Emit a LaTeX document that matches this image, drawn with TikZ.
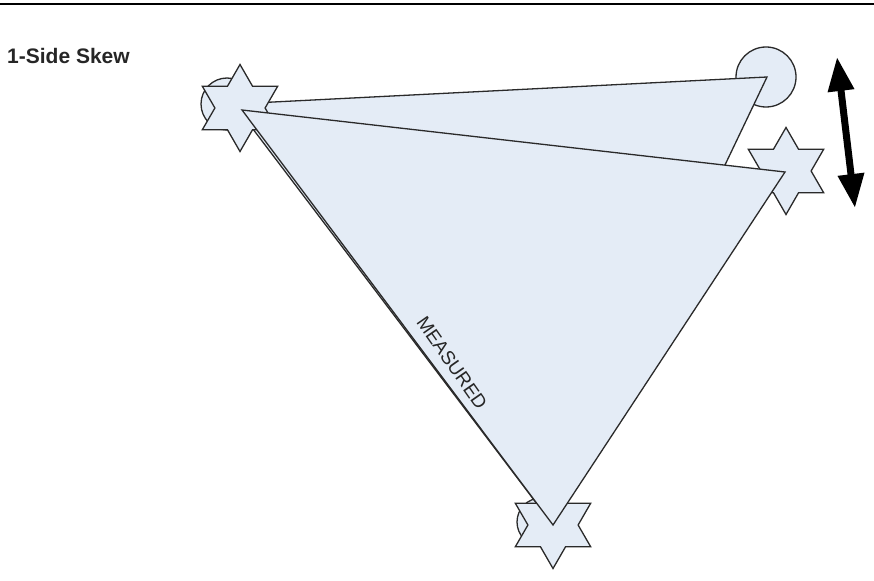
\documentclass[tikz,border=0pt]{standalone}
\usepackage{fontspec}
\setmainfont{Liberation Sans}
\usetikzlibrary{arrows.meta,calc}
\definecolor{shfill}{HTML}{E4ECF6}
\definecolor{shline}{HTML}{2A2A2A}
\tikzset{
  shp/.style={draw=shline, fill=shfill, line width=1.3pt, line join=miter},
  pics/hexa/.style={code={\draw[shp] (90:43.5) -- (120:25.1) -- (150:43.5) -- (180:25.1) -- (210:43.5) -- (240:25.1) -- (270:43.5) -- (300:25.1) -- (330:43.5) -- (0:25.1) -- (30:43.5) -- (60:25.1) -- cycle;}},
  lbl/.style={font=\fontsize{19}{21}\selectfont, text=black!85, inner sep=0pt},
}
\begin{document}
\begin{tikzpicture}[x=1pt,y=-1pt]
\useasboundingbox (0,0) rectangle (874,580);
\fill[white] (0,0) rectangle (874,580);
\draw[line width=1.6pt] (0,4) -- (874,4);
\node[font=\bfseries\fontsize{21}{24}\selectfont, anchor=west, inner sep=0pt, text=black!85] (title) at (7,56) {1-Side Skew};
% circles behind
\draw[shp] (227,104) circle (26);
\draw[shp] (766,77) circle (30);
\draw[shp] (541,522) circle (24);
% back triangle
\coordinate (bl) at (234,104);
\coordinate (br) at (767,77);
\coordinate (bb) at (553,525);
\draw[shp] (bl) -- (br) -- (bb) -- cycle;
% stars
\pic at (240,108) {hexa};
\pic at (786,171) {hexa};
\pic at (553,525) {hexa};
% front triangle
\coordinate (fl) at (242,110);
\coordinate (fr) at (785,172);
\coordinate (fb) at (553,525);
\draw[shp] (fl) -- (fr) -- (fb) -- cycle;
\coordinate (mc) at (452,363);
\node[lbl, rotate=-55] (meas) at (mc) {MEASURED};
% double arrow
\coordinate (at) at (837,57);
\coordinate (ab) at (855,208);
\draw[line width=7pt, {Triangle[length=34pt,width=25pt]}-{Triangle[length=34pt,width=25pt]}] (at) -- (ab);
\end{tikzpicture}
\end{document}
